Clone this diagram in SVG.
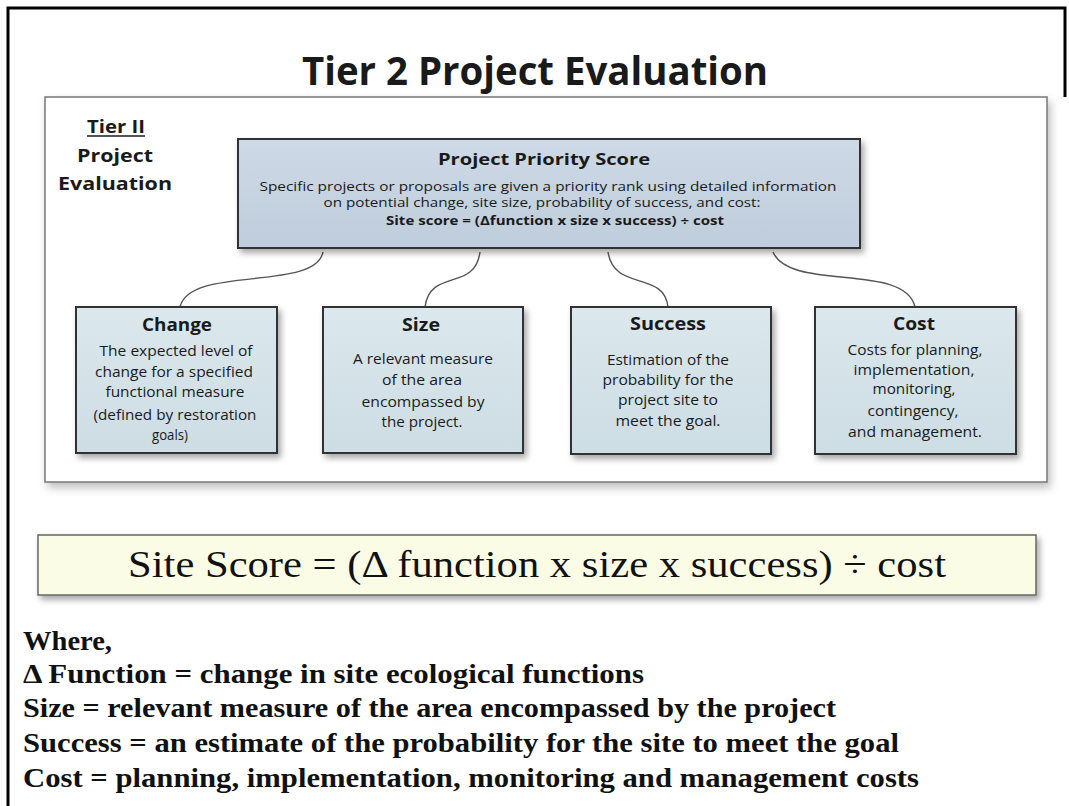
<svg xmlns="http://www.w3.org/2000/svg" width="1069" height="806" viewBox="0 0 1069 806">
<style>
.sans{font-family:"Open Sans","Noto Sans","Liberation Sans",sans-serif;fill:#1a1a1a}
.b{font-weight:bold}
.body{font-size:14px}
.ct{font-size:17px;font-weight:bold}
.serif{font-family:"Liberation Serif","DejaVu Serif",serif;fill:#111}
.box{stroke:#333;stroke-width:2}
.conn{fill:none;stroke:#555;stroke-width:1.4}
</style>
<defs>
<filter id="sh" x="-10%" y="-10%" width="130%" height="140%">
<feDropShadow dx="3" dy="4" stdDeviation="3" flood-color="#000" flood-opacity="0.35"/>
</filter>
<filter id="sh2" x="-5%" y="-5%" width="110%" height="120%">
<feDropShadow dx="3" dy="5" stdDeviation="4" flood-color="#000" flood-opacity="0.25"/>
</filter>
<linearGradient id="gp" x1="0" y1="0" x2="0" y2="1">
<stop offset="0" stop-color="#cdd9e6"/><stop offset="1" stop-color="#bfcddc"/>
</linearGradient>
<linearGradient id="gc" x1="0" y1="0" x2="0" y2="1">
<stop offset="0" stop-color="#dbe8ed"/><stop offset="1" stop-color="#cddde4"/>
</linearGradient>
</defs>
<rect width="1069" height="806" fill="#fff"/>
<path d="M8,806 V8 H1065 V97" fill="none" stroke="#000" stroke-width="3"/>

<g id="title">
<text class="sans b" x="535" y="85" font-size="40" text-anchor="middle" textLength="466" lengthAdjust="spacingAndGlyphs">Tier 2 Project Evaluation</text>
</g>

<g id="panel">
<rect x="45" y="97" width="1002" height="385" fill="#fff" stroke="#777" stroke-width="1.5" filter="url(#sh2)"/>
</g>

<g id="tier-label">
<text class="sans b" x="116" y="133" font-size="18" text-anchor="middle" textLength="58" lengthAdjust="spacingAndGlyphs">Tier II</text>
<line x1="87" y1="136" x2="145" y2="136" stroke="#1a1a1a" stroke-width="1.5"/>
<text class="sans b" x="115" y="162" font-size="18" text-anchor="middle" textLength="76" lengthAdjust="spacingAndGlyphs">Project</text>
<text class="sans b" x="115" y="190" font-size="18" text-anchor="middle" textLength="114" lengthAdjust="spacingAndGlyphs">Evaluation</text>
</g>

<g id="connectors">
<path class="conn" d="M323,252 C315,292 190,265 180,307"/>
<path class="conn" d="M480,252 C475,292 430,268 425,307"/>
<path class="conn" d="M608,252 C614,292 664,270 668,307"/>
<path class="conn" d="M773,252 C790,292 905,262 915,307"/>
</g>

<g id="priority">
<rect class="box" x="238" y="139" width="622" height="109" fill="url(#gp)" filter="url(#sh)"/>
<text class="sans b" x="544" y="165" font-size="16" text-anchor="middle" textLength="212" lengthAdjust="spacingAndGlyphs">Project Priority Score</text>
<text class="sans" x="548" y="191" font-size="13" text-anchor="middle" textLength="577" lengthAdjust="spacingAndGlyphs">Specific projects or proposals are given a priority rank using detailed information</text>
<text class="sans" x="542" y="207" font-size="13" text-anchor="middle" textLength="437" lengthAdjust="spacingAndGlyphs">on potential change, site size, probability of success, and cost:</text>
<text class="sans b" x="555" y="225" font-size="13" text-anchor="middle" textLength="338" lengthAdjust="spacingAndGlyphs">Site score = (Δfunction x size x success) ÷ cost</text>
</g>

<g id="change">
<rect class="box" x="76" y="307" width="201" height="146" fill="url(#gc)" filter="url(#sh)"/>
<text class="sans ct" x="177" y="331" text-anchor="middle" textLength="70" lengthAdjust="spacingAndGlyphs">Change</text>
<text class="sans body" x="176" y="356" text-anchor="middle" textLength="153" lengthAdjust="spacingAndGlyphs">The expected level of</text>
<text class="sans body" x="174" y="377" text-anchor="middle" textLength="158" lengthAdjust="spacingAndGlyphs">change for a specified</text>
<text class="sans body" x="175" y="397" text-anchor="middle" textLength="139" lengthAdjust="spacingAndGlyphs">functional measure</text>
<text class="sans body" x="175" y="420" text-anchor="middle" textLength="163" lengthAdjust="spacingAndGlyphs">(defined by restoration</text>
<text class="sans body" x="170" y="440" text-anchor="middle" textLength="36" lengthAdjust="spacingAndGlyphs">goals)</text>
</g>

<g id="size">
<rect class="box" x="323" y="307" width="200" height="146" fill="url(#gc)" filter="url(#sh)"/>
<text class="sans ct" x="421" y="331" text-anchor="middle" textLength="38" lengthAdjust="spacingAndGlyphs">Size</text>
<text class="sans body" x="423" y="364" text-anchor="middle" textLength="140" lengthAdjust="spacingAndGlyphs">A relevant measure</text>
<text class="sans body" x="422" y="385" text-anchor="middle" textLength="80" lengthAdjust="spacingAndGlyphs">of the area</text>
<text class="sans body" x="423" y="407" text-anchor="middle" textLength="123" lengthAdjust="spacingAndGlyphs">encompassed by</text>
<text class="sans body" x="422" y="427" text-anchor="middle" textLength="81" lengthAdjust="spacingAndGlyphs">the project.</text>
</g>

<g id="success">
<rect class="box" x="571" y="307" width="200" height="147" fill="url(#gc)" filter="url(#sh)"/>
<text class="sans ct" x="668" y="330" text-anchor="middle" textLength="76" lengthAdjust="spacingAndGlyphs">Success</text>
<text class="sans body" x="668" y="365" text-anchor="middle" textLength="122" lengthAdjust="spacingAndGlyphs">Estimation of the</text>
<text class="sans body" x="668" y="385" text-anchor="middle" textLength="131" lengthAdjust="spacingAndGlyphs">probability for the</text>
<text class="sans body" x="668" y="405" text-anchor="middle" textLength="100" lengthAdjust="spacingAndGlyphs">project site to</text>
<text class="sans body" x="668" y="426" text-anchor="middle" textLength="105" lengthAdjust="spacingAndGlyphs">meet the goal.</text>
</g>

<g id="cost">
<rect class="box" x="815" y="307" width="201" height="147" fill="url(#gc)" filter="url(#sh)"/>
<text class="sans ct" x="914" y="330" text-anchor="middle" textLength="42" lengthAdjust="spacingAndGlyphs">Cost</text>
<text class="sans body" x="915" y="355" text-anchor="middle" textLength="135" lengthAdjust="spacingAndGlyphs">Costs for planning,</text>
<text class="sans body" x="914" y="375" text-anchor="middle" textLength="121" lengthAdjust="spacingAndGlyphs">implementation,</text>
<text class="sans body" x="914" y="394" text-anchor="middle" textLength="83" lengthAdjust="spacingAndGlyphs">monitoring,</text>
<text class="sans body" x="913" y="416" text-anchor="middle" textLength="91" lengthAdjust="spacingAndGlyphs">contingency,</text>
<text class="sans body" x="915" y="437" text-anchor="middle" textLength="134" lengthAdjust="spacingAndGlyphs">and management.</text>
</g>

<g id="formula">
<rect x="38" y="535" width="998" height="60" fill="#fbfce6" stroke="#666" stroke-width="1.5" filter="url(#sh)"/>
<text class="serif" x="537" y="577" font-size="38" text-anchor="middle" textLength="818" lengthAdjust="spacingAndGlyphs">Site Score = (Δ function x size x success) ÷ cost</text>
</g>

<g id="legend" class="serif" font-weight="bold" font-size="27">
<text x="23" y="650" textLength="89" lengthAdjust="spacingAndGlyphs">Where,</text>
<text x="23" y="683" textLength="621" lengthAdjust="spacingAndGlyphs">Δ Function = change in site ecological functions</text>
<text x="23" y="717" textLength="813" lengthAdjust="spacingAndGlyphs">Size = relevant measure of the area encompassed by the project</text>
<text x="23" y="752" textLength="876" lengthAdjust="spacingAndGlyphs">Success = an estimate of the probability for the site to meet the goal</text>
<text x="23" y="787" textLength="896" lengthAdjust="spacingAndGlyphs">Cost = planning, implementation, monitoring and management costs</text>
</g>
</svg>
